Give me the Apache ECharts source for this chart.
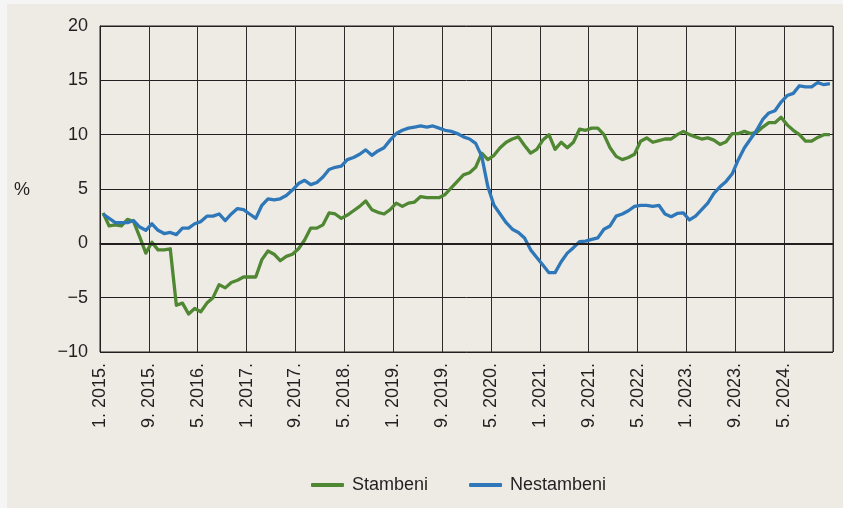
<!DOCTYPE html>
<html>
<head>
<meta charset="utf-8">
<script src="https://cdn.jsdelivr.net/npm/echarts@6/dist/echarts.min.js"></script>
<style>
  html, body { margin: 0; padding: 0; background: #f5f5f5; }
  #panel { position: absolute; left: 7px; top: 4px; width: 836px; height: 504px; background: #eeebe5; }
  #chart { position: absolute; left: 0; top: 0; width: 843px; height: 508px; }
</style>
</head>
<body>
<div id="panel"></div>
<div id="chart"></div>
<script>
// mjesečne stope, 1. 2015. - 12. 2024.
var tickLabels = ['1. 2015.', '9. 2015.', '5. 2016.', '1. 2017.', '9. 2017.', '5. 2018.', '1. 2019.', '9. 2019.',
  '5. 2020.', '1. 2021.', '9. 2021.', '5. 2022.', '1. 2023.', '9. 2023.', '5. 2024.'];

var stambeni = [
  2.8, 1.6, 1.7, 1.6, 2.2, 2.0, 0.6, -0.9, 0.1, -0.6,
  -0.6, -0.5, -5.7, -5.5, -6.5, -6.0, -6.3, -5.5, -5.0, -3.8,
  -4.1, -3.6, -3.4, -3.1, -3.1, -3.1, -1.5, -0.7, -1.0, -1.6,
  -1.2, -1.0, -0.5, 0.3, 1.4, 1.4, 1.7, 2.8, 2.7, 2.3,
  2.6, 3.0, 3.4, 3.9, 3.1, 2.85, 2.7, 3.1, 3.7, 3.4,
  3.7, 3.8, 4.3, 4.2, 4.2, 4.2, 4.5, 5.1, 5.7, 6.3,
  6.5, 7.0, 8.3, 7.7, 8.1, 8.8, 9.3, 9.6, 9.8, 9.0,
  8.3, 8.65, 9.5, 10.0, 8.65, 9.3, 8.8, 9.3, 10.5, 10.4,
  10.6, 10.6, 10.0, 8.8, 8.0, 7.7, 7.9, 8.2, 9.4, 9.7,
  9.3, 9.45, 9.6, 9.6, 10.0, 10.3, 10.0, 9.8, 9.6, 9.7,
  9.5, 9.1, 9.35, 10.1, 10.1, 10.3, 10.1, 10.2, 10.7, 11.1,
  11.1, 11.6, 10.9, 10.4, 10.0, 9.4, 9.4, 9.75, 10.0, 10.0
];

var nestambeni = [
  2.7, 2.3, 1.9, 1.9, 1.9, 2.1, 1.5, 1.2, 1.8, 1.2,
  0.9, 1.0, 0.8, 1.4, 1.4, 1.8, 2.0, 2.5, 2.5, 2.7,
  2.1, 2.7, 3.2, 3.1, 2.7, 2.3, 3.5, 4.1, 4.0, 4.1,
  4.4, 4.9, 5.5, 5.8, 5.4, 5.6, 6.1, 6.8, 7.0, 7.1,
  7.7, 7.9, 8.2, 8.6, 8.1, 8.5, 8.8, 9.5, 10.1, 10.4,
  10.6, 10.7, 10.8, 10.7, 10.8, 10.6, 10.4, 10.3, 10.1, 9.8,
  9.6, 9.2, 8.0, 5.2, 3.5, 2.7, 1.9, 1.3, 1.0, 0.5,
  -0.6, -1.3, -2.0, -2.7, -2.7, -1.7, -0.9, -0.4, 0.15, 0.2,
  0.37, 0.5, 1.3, 1.6, 2.5, 2.7, 3.0, 3.4, 3.5, 3.5,
  3.4, 3.5, 2.7, 2.45, 2.75, 2.8, 2.15, 2.5, 3.1, 3.7,
  4.6, 5.2, 5.7, 6.4, 7.7, 8.8, 9.6, 10.4, 11.4, 12.0,
  12.2, 13.0, 13.6, 13.8, 14.5, 14.4, 14.4, 14.8, 14.6, 14.7
];

// točka mjeseca je na sredini mjeseca
function toPoints(arr) {
  return arr.map(function (v, i) { return [i + 0.5, v]; });
}

var font = "'Liberation Sans', Arial, sans-serif";
var ink = '#231f20';

var chart = echarts.init(document.getElementById('chart'));
chart.setOption({
  animation: false,
  backgroundColor: 'transparent',
  textStyle: { fontFamily: font, color: ink },
  grid: {
    left: 100, right: 10, top: 26, height: 326,
    show: true, borderColor: ink, borderWidth: 1, backgroundColor: 'transparent'
  },
  legend: {
    left: 306, top: 471,
    itemWidth: 33, itemHeight: 4, itemGap: 41,
    icon: 'roundRect',
    textStyle: { fontSize: 18, color: ink, fontFamily: font, padding: [0, 0, 0, 3] },
    data: ['Stambeni', 'Nestambeni']
  },
  graphic: [{
    type: 'text', left: 14, top: 181,
    style: { text: '%', fontSize: 18, fill: ink, fontFamily: font }
  }],
  xAxis: {
    type: 'value', min: 0, max: 120, interval: 8,
    axisLine: { show: true, lineStyle: { color: ink, width: 1 } },
    axisTick: { show: false },
    splitLine: { show: true, lineStyle: { color: '#2e2b2b', width: 1 } },
    axisLabel: {
      rotate: 90, margin: 11, fontSize: 18, color: ink, fontFamily: font,
      formatter: function (v) { return tickLabels[v / 8] || ''; }
    }
  },
  yAxis: {
    type: 'value', min: -10, max: 20, interval: 5,
    axisLine: { show: true, lineStyle: { color: ink, width: 1 } },
    axisTick: { show: false },
    splitLine: { show: true, lineStyle: { color: ink, width: 1 } },
    axisLabel: {
      margin: 12, fontSize: 18, color: ink, fontFamily: font,
      formatter: function (v) { return v < 0 ? '\u2212' + Math.abs(v) : String(v); }
    }
  },
  series: [
    {
      name: 'Stambeni', type: 'line', data: toPoints(stambeni),
      showSymbol: false, symbol: 'none',
      lineStyle: { color: '#4f8733', width: 3.3, join: 'round' },
      itemStyle: { color: '#4f8733' },
      markLine: {
        silent: true, symbol: 'none', label: { show: false },
        lineStyle: { color: ink, width: 2, type: 'solid' },
        data: [{ yAxis: 0 }]
      }
    },
    {
      name: 'Nestambeni', type: 'line', data: toPoints(nestambeni),
      showSymbol: false, symbol: 'none',
      lineStyle: { color: '#2e77b8', width: 3.3, join: 'round' },
      itemStyle: { color: '#2e77b8' }
    }
  ]
});
</script>
</body>
</html>
